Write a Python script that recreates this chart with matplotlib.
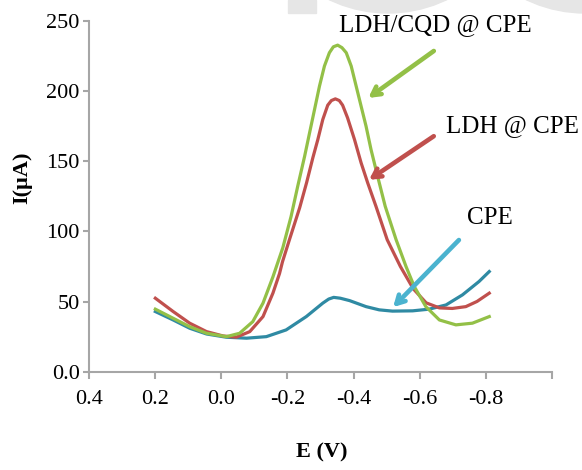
import matplotlib.pyplot as plt
from matplotlib.patches import Rectangle, Circle

# potentials (V) and currents (uA)
e_cqd = [0.200, 0.146, 0.096, 0.045, -0.015, -0.055, -0.095, -0.126, -0.156, -0.186,
         -0.211, -0.231, -0.252, -0.267, -0.282, -0.297, -0.312, -0.327, -0.339, -0.352,
         -0.365, -0.378, -0.393, -0.408, -0.423, -0.438, -0.453, -0.473, -0.496, -0.529,
         -0.559, -0.584, -0.619, -0.660, -0.710, -0.760, -0.811]
i_cqd = [44.6, 38.1, 32.1, 27.4, 25.0, 27.4, 35.7, 48.9, 67.6, 88.4,
         110.7, 132.1, 153.6, 170.3, 186.9, 203.6, 217.9, 227.4, 231.6, 232.8,
         231.0, 227.4, 217.9, 203.6, 189.3, 175.0, 158.4, 139.3, 117.9, 94.1,
         75.0, 60.7, 46.4, 36.9, 33.4, 34.6, 39.3]

e_ldh = [0.200, 0.146, 0.096, 0.045, -0.005, -0.045, -0.086, -0.126, -0.156, -0.176,
         -0.185, -0.206, -0.237, -0.258, -0.277, -0.292, -0.307, -0.322, -0.333, -0.345,
         -0.357, -0.367, -0.382, -0.403, -0.423, -0.443, -0.468, -0.502, -0.542, -0.581,
         -0.620, -0.660, -0.699, -0.740, -0.774, -0.811]
i_ldh = [52.4, 42.9, 34.6, 28.6, 25.5, 24.6, 28.6, 39.3, 56.0, 70.0,
         78.4, 94.1, 116.9, 134.8, 152.6, 165.5, 179.8, 190.0, 193.3, 194.5,
         193.3, 190.0, 181.0, 165.5, 148.9, 134.6, 117.9, 94.1, 75.0, 59.1,
         49.1, 45.5, 45.1, 46.4, 50.1, 56.0]

e_cpe = [0.200, 0.146, 0.096, 0.045, -0.015, -0.076, -0.136, -0.196, -0.257, -0.307,
         -0.325, -0.340, -0.360, -0.388, -0.438, -0.478, -0.518, -0.579, -0.629, -0.680,
         -0.730, -0.780, -0.811]
i_cpe = [42.9, 36.9, 31.0, 26.9, 24.6, 23.9, 25.0, 29.8, 39.3, 48.9,
         51.8, 53.0, 52.4, 50.7, 46.4, 44.1, 43.2, 43.4, 44.6, 47.6,
         54.8, 64.3, 71.4]

xticks = [0.4, 0.2, 0.0, -0.2, -0.4, -0.6, -0.8, -1.0]
xticklabels = ['0.4', '0.2', '0.0', '-0.2', '-0.4', '-0.6', '-0.8', '']
yticks = [0, 50, 100, 150, 200, 250]
yticklabels = ['0.0', '50', '100', '150', '200', '250']

green = '#93c047'
red = '#c0504d'
teal = '#2f8aa3'
cyan = '#4bb3cf'

plt.rcParams['font.family'] = ['Liberation Serif', 'DejaVu Serif']

fig = plt.figure(figsize=(5.82, 4.70), dpi=100)

# faint watermark shapes along the top edge
fig.patches.append(Rectangle((288 / 582, 1 - 13 / 470), 28 / 582, 13 / 470,
                             transform=fig.transFigure, color='#e6e6e6', zorder=0))
for cx in (388, 585):
    fig.patches.append(Circle((cx, 470 + 123), 136, transform=None,
                              color='#e6e6e6', zorder=0))

ax = fig.add_axes([0.1534, 0.2091, 0.7945, 0.7462])
ax.patch.set_alpha(0)

ax.plot(e_cpe, i_cpe, color=teal, lw=2.3, solid_joinstyle='round')
ax.plot(e_ldh, i_ldh, color=red, lw=2.3, solid_joinstyle='round')
ax.plot(e_cqd, i_cqd, color=green, lw=2.3, solid_joinstyle='round')

ax.set_xlim(0.4, -1.0)
ax.set_ylim(0, 250)
ax.set_xticks(xticks)
ax.set_xticklabels(xticklabels)
ax.set_yticks(yticks)
ax.set_yticklabels(yticklabels)

for side in ('top', 'right'):
    ax.spines[side].set_visible(False)
for side in ('left', 'bottom'):
    ax.spines[side].set_color('#a6a6a6')
    ax.spines[side].set_linewidth(1.5)
ax.tick_params(axis='x', length=5, width=1.5, color='#a6a6a6', pad=8, labelsize=16)
ax.tick_params(axis='y', length=4, width=1.5, color='#a6a6a6', pad=3, labelsize=16)

ax.set_ylabel('I(µA)', fontsize=16, fontweight='bold')
ax.yaxis.set_label_coords(-0.124, 0.554)
ax.set_xlabel('E (V)', fontsize=16, fontweight='bold')
ax.xaxis.set_label_coords(0.503, -0.203)

arrow = dict(arrowstyle='->, head_length=0.6, head_width=0.33', lw=3.3)
ax.annotate('', xy=(-0.438, 194), xytext=(-0.650, 229.8),
            arrowprops=dict(arrow, color=green), annotation_clip=False)
ax.annotate('', xy=(-0.440, 135.7), xytext=(-0.650, 169),
            arrowprops=dict(arrow, color=red), annotation_clip=False)
ax.annotate('', xy=(-0.514, 44.6), xytext=(-0.725, 95.3),
            arrowprops=dict(arrow, color=cyan), annotation_clip=False)

ax.text(-0.648, 247, 'LDH/CQD @ CPE', fontsize=18, ha='center', va='center', clip_on=False)
ax.text(-0.881, 175, 'LDH @ CPE', fontsize=18, ha='center', va='center', clip_on=False)
ax.text(-0.813, 109.5, 'CPE', fontsize=18, ha='center', va='center', clip_on=False)

fig.savefig('out.png', dpi=100)
